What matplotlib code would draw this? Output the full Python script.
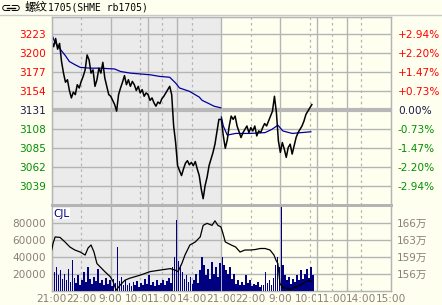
import matplotlib
matplotlib.use('Agg')
import matplotlib.pyplot as plt
from matplotlib.lines import Line2D
import matplotlib.transforms as mtransforms
import numpy as np

# ---------------- data ----------------
prev_close = 3131
price_levels = [3039, 3062, 3085, 3108, 3131, 3154, 3177, 3200, 3223]
vol_levels = [20000, 40000, 60000, 80000]
oi_tick_values = [1563100, 1596700, 1630300, 1663900]

time_labels = ["21:00", "22:00", "9:00", "10:00", "11:00", "14:00",
               "21:00", "22:00", "9:00", "10:00", "11:00", "14:00", "15:00"]
time_label_minutes = [0, 60, 120, 180, 225, 285, 345, 405, 465, 525, 570, 630, 690]

# price sampled every 4 trading minutes (day 1: 86 samples, day 2: 47 samples)
price_day1 = [3215, 3208, 3218, 3205, 3212, 3190, 3176, 3165, 3168, 3155,
              3146, 3153, 3150, 3162, 3158, 3166, 3172, 3180, 3198, 3192,
              3176, 3180, 3160, 3168, 3182, 3176, 3189, 3170, 3160, 3150,
              3148, 3143, 3138, 3130, 3150, 3158, 3165, 3173, 3162, 3168,
              3160, 3166, 3162, 3155, 3160, 3152, 3156, 3148, 3152, 3150,
              3143, 3146, 3140, 3136, 3141, 3139, 3145, 3148, 3152, 3156,
              3160, 3150, 3112, 3092, 3064, 3058, 3052, 3060, 3067, 3070,
              3065, 3068, 3064, 3069, 3060, 3052, 3036, 3024, 3040, 3050,
              3064, 3072, 3080, 3090, 3105, 3120]
price_day2 = [3120, 3100, 3085, 3095, 3112, 3124, 3120, 3124, 3112, 3105,
              3098, 3104, 3108, 3112, 3104, 3110, 3106, 3112, 3100, 3106,
              3104, 3110, 3115, 3112, 3118, 3124, 3130, 3148, 3128, 3094,
              3080, 3092, 3084, 3074, 3086, 3090, 3078, 3088, 3098, 3104,
              3108, 3112, 3118, 3126, 3130, 3134, 3138]

volume_day1 = [32000, 22000, 28000, 18000, 24000, 14000, 20000, 12000, 26000, 10000,
               36000, 15000, 9000, 18000, 7000, 12000, 22000, 10000, 28000, 14000,
               8000, 16000, 11000, 26000, 9000, 13000, 6000, 15000, 8000, 12000,
               5000, 14000, 9000, 52000, 11000, 16000, 7000, 12000, 6000, 9000,
               5000, 10000, 7000, 11000, 4000, 9000, 6000, 14000, 8000, 18000,
               7000, 10000, 5000, 12000, 6000, 9000, 13000, 7000, 11000, 15000,
               9000, 28000, 40000, 83000, 35000, 30000, 22000, 14000, 18000, 10000,
               16000, 8000, 12000, 20000, 9000, 24000, 40000, 30000, 18000, 26000,
               14000, 34000, 20000, 28000, 16000, 32000]
volume_day2 = [40000, 30000, 24000, 20000, 28000, 14000, 20000, 8000, 12000, 6000,
               10000, 7000, 18000, 9000, 12000, 5000, 8000, 6000, 10000, 4000,
               7000, 6000, 22000, 9000, 12000, 7000, 15000, 30000, 40000, 28000,
               100000, 30000, 18000, 12000, 16000, 8000, 14000, 10000, 18000, 12000,
               24000, 14000, 20000, 26000, 15000, 28000, 18000]

avg_minutes_day1 = [0, 6, 16, 28, 36, 48, 58, 78, 98, 128, 140, 160, 180, 200,
                    220, 240, 252, 260, 280, 300, 306, 320, 330, 344]
avg_price_day1 = [3223, 3214, 3206, 3197, 3190, 3186, 3183, 3182, 3182, 3181,
                  3178, 3176, 3175, 3174, 3172, 3171, 3164, 3158, 3154, 3147,
                  3143, 3139, 3136, 3134]
avg_minutes_day2 = [345, 349, 357, 374, 404, 434, 448, 460, 470, 489, 527]
avg_price_day2 = [3123, 3112, 3101, 3103, 3103, 3104, 3108, 3113, 3106, 3103, 3105]

oi_minutes = [0, 3, 7, 17, 27, 37, 47, 58, 68, 74, 80, 86, 92, 98, 108, 119, 125,
              131, 139, 149, 159, 180, 200, 220, 241, 251, 257, 265, 271, 281, 292,
              302, 308, 316, 326, 332, 338, 344,
              348, 353, 359, 365, 374, 383, 393, 404, 414, 424, 434, 444, 452, 456,
              460, 464, 469, 477, 485, 493, 501, 509, 517, 525, 529]
oi_wan = [161.0, 162.4, 163.6, 163.5, 162.6, 161.6, 161.0, 160.6, 160.0, 161.4,
          162.0, 160.6, 158.3, 157.7, 156.7, 155.7, 154.7, 153.0, 154.0, 155.0,
          155.4, 156.0, 156.7, 157.0, 157.3, 157.0, 156.7, 158.4, 160.0, 162.0,
          162.6, 163.6, 165.9, 166.3, 165.9, 166.8, 165.9, 165.6,
          164.4, 162.6, 162.3, 162.0, 161.6, 160.6, 161.0, 161.0, 161.1, 161.3,
          161.3, 161.0, 160.0, 159.0, 158.3, 154.4, 153.6, 153.4, 153.2, 153.6,
          153.8, 154.2, 154.7, 154.9, 154.8]

# ---------------- style ----------------
BG = '#FFFFF0'
SHADE = '#EBEBEB'
GRID = '#B4B4B4'
RED = '#FF0000'
GREEN = '#009000'
NAVY = '#1A1A50'
AXTXT = '#8A8078'
DAY = 345
solid_in_day = [120, 195, 255]
dashed_in_day = [60, 180, 225, 285]

W, H = 442, 305
fig = plt.figure(figsize=(W / 100, H / 100), dpi=100, facecolor=BG)
plt.rcParams['font.family'] = ['DejaVu Sans', 'Noto Sans CJK SC']

L, R = 51.7, 391.0
TOP, MID, BOT = 17.0, 205.0, 290.5


def rect(top, bottom):
    return [L / W, 1 - bottom / H, (R - L) / W, (bottom - top) / H]


ax_p = fig.add_axes(rect(TOP, MID))
ax_v = fig.add_axes(rect(MID, BOT))


def setup(ax):
    ax.set_facecolor(BG)
    ax.set_xlim(0, 2 * DAY)
    ax.axvspan(0, DAY, color=SHADE, zorder=0, lw=0)
    for d in (0, DAY):
        for s in solid_in_day:
            ax.axvline(d + s, color=GRID, lw=1, zorder=1)
        for s in dashed_in_day:
            ax.axvline(d + s, color=GRID, lw=0.9, ls=(0, (2, 2.5)), zorder=1)
    ax.axvline(DAY, color=GRID, lw=1, zorder=1)
    ax.set_xticks([])
    for sp in ax.spines.values():
        sp.set_color(GRID)
        sp.set_linewidth(1)


setup(ax_p)
setup(ax_v)

# times
t1 = np.arange(len(price_day1)) * 4
t2 = DAY + np.arange(len(price_day2)) * 4
t = np.concatenate([t1, t2])
price = np.array(price_day1 + price_day2)
volume = np.array(volume_day1 + volume_day2)

# price panel
step = 23
ylo = prev_close - (MID - 110.3) / 19 * step
yhi = prev_close + (110.3 - TOP) / 19 * step
ax_p.set_ylim(ylo, yhi)
for lv in price_levels:
    if lv == prev_close:
        ax_p.axhline(lv, color='#B8B8B8', lw=3, zorder=1)
    else:
        ax_p.axhline(lv, color=GRID, lw=1, zorder=1)

ax_p.plot(avg_minutes_day1, avg_price_day1, color='#0000A0', lw=0.9, zorder=3)
ax_p.plot(avg_minutes_day2, avg_price_day2, color='#0000A0', lw=0.9, zorder=3)
ax_p.plot(t, price, color='black', lw=1.1, zorder=4)


def lvl_color(lv):
    if lv > prev_close:
        return RED
    if lv < prev_close:
        return GREEN
    return NAVY


ax_p.set_yticks(price_levels)
ax_p.set_yticklabels([str(v) for v in price_levels], fontsize=7.6)
ax_p.tick_params(axis='y', length=0, pad=4)
for lab, lv in zip(ax_p.get_yticklabels(), price_levels):
    lab.set_color(lvl_color(lv))

ax_pr = ax_p.twinx()
ax_pr.set_ylim(ylo, yhi)
ax_pr.set_yticks(price_levels)
pct = [(lv - prev_close) / prev_close * 100 for lv in price_levels]
ax_pr.set_yticklabels([("+%.2f%%" % p) if p > 0 else ("%.2f%%" % p) for p in pct], fontsize=7.6)
ax_pr.tick_params(axis='y', length=0, pad=5)
for lab, lv in zip(ax_pr.get_yticklabels(), price_levels):
    lab.set_color(lvl_color(lv))
for sp in ax_pr.spines.values():
    sp.set_color(GRID)

# volume panel
vmax = (BOT - MID) / 16.9 * 20000
ax_v.set_ylim(0, vmax)
for lv in vol_levels:
    ax_v.axhline(lv, color=GRID, lw=1, zorder=1)
ax_v.bar(t + 2, volume, width=3.3, color='#000080', zorder=3, lw=0)
ax_v.set_yticks(vol_levels)
ax_v.set_yticklabels([str(v) for v in vol_levels], fontsize=7.6, color=AXTXT)
ax_v.tick_params(axis='y', length=0, pad=4)
ax_v.spines['top'].set_linewidth(2)

ax_o = ax_v.twinx()
oi_lo = 1529500
oi_step = 33600
ax_o.set_ylim(oi_lo, oi_lo + oi_step * vmax / 20000)
ax_o.plot(oi_minutes, np.array(oi_wan) * 1e4, color='black', lw=0.9, zorder=5)
ax_o.set_yticks(oi_tick_values)
ax_o.set_yticklabels(["%d万" % int(v / 1e4) for v in oi_tick_values], fontsize=7.6, color=AXTXT)
ax_o.tick_params(axis='y', length=0, pad=4)
for sp in ax_o.spines.values():
    sp.set_color(GRID)
ax_o.spines['top'].set_linewidth(2)

ax_v.text(0.004, 0.90, 'CJL', transform=ax_v.transAxes, color='#000080',
          fontsize=7.6, va='center', ha='left', zorder=10,
          bbox=dict(facecolor='white', edgecolor='none', pad=0.5))

# time labels
trans = mtransforms.blended_transform_factory(ax_v.transData, ax_v.transAxes)
ylab = -(299.5 - BOT) / (BOT - MID)
for m, lab in zip(time_label_minutes, time_labels):
    ax_v.text(m, ylab, lab, transform=trans, ha='center', va='center',
              fontsize=7.6, color=AXTXT, clip_on=False,
              bbox=dict(facecolor=BG, edgecolor='none', pad=0.2))

# title
fig.add_artist(Line2D([0, 1], [1 - 14.5 / H] * 2, color='#C8C8C8', lw=1))
fig.text(1 / W, 1 - 7.5 / H, '⊂⊃', fontsize=9, va='center', ha='left', color='black')
fig.add_artist(Line2D([7 / W, 15 / W], [1 - 7.5 / H] * 2, color='black', lw=1))
fig.text(25 / W, 1 - 7.5 / H, '螺纹', fontsize=8.3, va='center', ha='left',
         color='black', family=['Noto Sans CJK SC'])
fig.text(48 / W, 1 - 7.5 / H, '1705(SHME rb1705)', fontsize=7.0, va='center', ha='left',
         color='black', family=['DejaVu Sans Mono'])

fig.savefig('out.png', dpi=100, facecolor=BG)
